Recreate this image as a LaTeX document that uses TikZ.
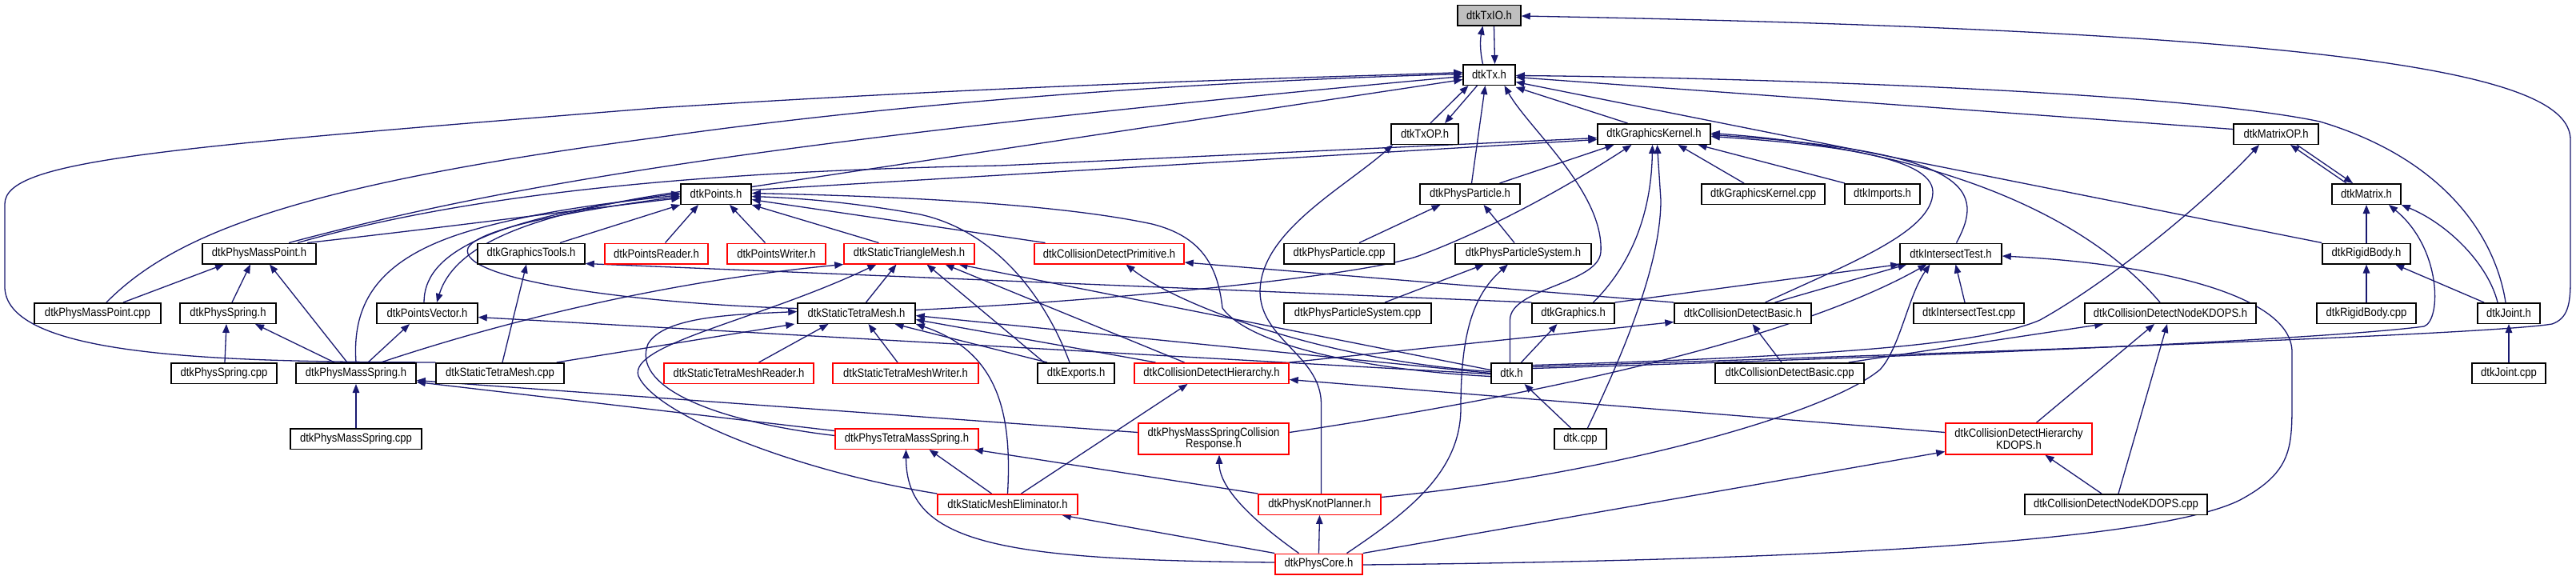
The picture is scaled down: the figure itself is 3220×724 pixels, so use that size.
\documentclass[tikz,border=0pt]{standalone}
\usepackage{fontspec}
\setmainfont{Liberation Sans}[FakeStretch=0.87]
\usetikzlibrary{arrows.meta}
\definecolor{edgec}{HTML}{191970}
\definecolor{redc}{HTML}{FF0000}
\definecolor{txgray}{HTML}{BFBFBF}
\pgfdeclarelayer{back}
\pgfdeclarelayer{bg}
\pgfsetlayers{back,bg,main}
\tikzset{
 box/.style={draw=black, line width=1.5pt, fill=white, inner sep=0pt, minimum height=25.5pt, align=center, font=\fontsize{15pt}{14.5pt}\selectfont, text=black},
 redbox/.style={box, draw=redc},
 e/.style={draw=edgec, line width=1.3pt, -{Triangle[length=11pt,width=8.5pt]}}
}
\begin{document}
\begin{tikzpicture}[x=1pt,y=-1pt]
\begin{pgfonlayer}{back}
\fill[white] (0,0) rectangle (3220,724);
\end{pgfonlayer}
\useasboundingbox (0,0) rectangle (3220,724);
% nodes
\node[box,minimum width=79pt,fill=txgray] (txio) at (1861.5,19) {dtkTxIO.h};
\node[box,minimum width=65pt] (tx) at (1861.5,93.5) {dtkTx.h};
\node[box,minimum width=84pt] (txop) at (1781,167.5) {dtkTxOP.h};
\node[box,minimum width=141pt] (gk) at (2067.5,167.5) {dtkGraphicsKernel.h};
\node[box,minimum width=106pt] (matop) at (2845,167.5) {dtkMatrixOP.h};
\node[box,minimum width=88pt] (points) at (895,242.5) {dtkPoints.h};
\node[box,minimum width=125pt] (pparticle) at (1837.5,242.5) {dtkPhysParticle.h};
\node[box,minimum width=154pt] (gkcpp) at (2204,242.5) {dtkGraphicsKernel.cpp};
\node[box,minimum width=94pt] (imports) at (2353,242.5) {dtkImports.h};
\node[box,minimum width=86pt] (matrix) at (2958,242.5) {dtkMatrix.h};
\node[box,minimum width=142pt] (pmp) at (324,317) {dtkPhysMassPoint.h};
\node[box,minimum width=134pt] (gtools) at (664,317) {dtkGraphicsTools.h};
\node[redbox,minimum width=129pt] (preader) at (820.5,317) {dtkPointsReader.h};
\node[redbox,minimum width=123pt] (pwriter) at (970.5,317) {dtkPointsWriter.h};
\node[redbox,minimum width=163pt] (stmesh) at (1136.5,317) {dtkStaticTriangleMesh.h};
\node[redbox,minimum width=187pt] (cdprim) at (1386.5,317) {dtkCollisionDetectPrimitive.h};
\node[box,minimum width=138pt] (ppcpp) at (1674,317) {dtkPhysParticle.cpp};
\node[box,minimum width=170pt] (ppsys) at (1904,317) {dtkPhysParticleSystem.h};
\node[box,minimum width=127pt] (itest) at (2438.5,317) {dtkIntersectTest.h};
\node[box,minimum width=110pt] (rigid) at (2958,317) {dtkRigidBody.h};
\node[box,minimum width=158pt] (pmpcpp) at (122,391.5) {dtkPhysMassPoint.cpp};
\node[box,minimum width=120pt] (pspring) at (285,391.5) {dtkPhysSpring.h};
\node[box,minimum width=126pt] (pvec) at (534,391.5) {dtkPointsVector.h};
\node[box,minimum width=147pt] (stetra) at (1070.5,391.5) {dtkStaticTetraMesh.h};
\node[box,minimum width=184pt] (ppsyscpp) at (1697,391.5) {dtkPhysParticleSystem.cpp};
\node[box,minimum width=103pt] (graphics) at (1966.5,391.5) {dtkGraphics.h};
\node[box,minimum width=171pt] (cdbasic) at (2178.5,391.5) {dtkCollisionDetectBasic.h};
\node[box,minimum width=138pt] (itestcpp) at (2461,391.5) {dtkIntersectTest.cpp};
\node[box,minimum width=214pt] (cdnode) at (2713,391.5) {dtkCollisionDetectNodeKDOPS.h};
\node[box,minimum width=124pt] (rigidcpp) at (2958,391.5) {dtkRigidBody.cpp};
\node[box,minimum width=78pt] (joint) at (3136,391.5) {dtkJoint.h};
\node[box,minimum width=132pt] (pspringcpp) at (280,466.5) {dtkPhysSpring.cpp};
\node[box,minimum width=150pt] (pms) at (445,466.5) {dtkPhysMassSpring.h};
\node[box,minimum width=160pt] (stetracpp) at (625,466.5) {dtkStaticTetraMesh.cpp};
\node[redbox,minimum width=187pt] (stetrareader) at (923.5,466.5) {dtkStaticTetraMeshReader.h};
\node[redbox,minimum width=182pt] (stetrawriter) at (1132,466.5) {dtkStaticTetraMeshWriter.h};
\node[box,minimum width=96pt] (exports) at (1345,466.5) {dtkExports.h};
\node[redbox,minimum width=193pt] (cdhier) at (1514.5,466.5) {dtkCollisionDetectHierarchy.h};
\node[box,minimum width=51pt] (dtkh) at (1889.5,466.5) {dtk.h};
\node[box,minimum width=186pt] (cdbasiccpp) at (2237,466.5) {dtkCollisionDetectBasic.cpp};
\node[box,minimum width=92pt] (jointcpp) at (3136,466.5) {dtkJoint.cpp};
\node[box,minimum width=164pt] (pmscpp) at (445,548.5) {dtkPhysMassSpring.cpp};
\node[redbox,minimum width=179pt] (ptms) at (1133.5,548.5) {dtkPhysTetraMassSpring.h};
\node[redbox,minimum width=188pt,minimum height=39pt] (pmscr) at (1517,548.5) {dtkPhysMassSpringCollision\\Response.h};
\node[box,minimum width=65pt] (dtkcpp) at (1975.5,548.5) {dtk.cpp};
\node[redbox,minimum width=183pt,minimum height=39pt] (cdhk) at (2523.5,548.5) {dtkCollisionDetectHierarchy\\KDOPS.h};
\node[redbox,minimum width=175pt] (sme) at (1259.5,630.5) {dtkStaticMeshEliminator.h};
\node[redbox,minimum width=153pt] (pknot) at (1649.5,630.5) {dtkPhysKnotPlanner.h};
\node[box,minimum width=228pt] (cdnodecpp) at (2645,630.5) {dtkCollisionDetectNodeKDOPS.cpp};
\node[redbox,minimum width=109pt] (pcore) at (1648.5,705) {dtkPhysCore.h};
% edges
\begin{pgfonlayer}{bg}
% into dtkTxIO.h
\draw[e] ([xshift=-8pt]tx.north) .. controls (1850,65) and (1850,50) .. ([xshift=-8pt]txio.south);
\draw[e] ([xshift=6pt]txio.south) -- ([xshift=7pt]tx.north);
\draw[e] ([yshift=8pt]dtkh.east) .. controls (2300,446) and (3100,420) .. (3190,405) .. controls (3210,398) and (3213,380) .. (3213,350) -- (3213,175) .. controls (3213,100) and (3000,40) .. ([yshift=-1pt]txio.east);
% into dtkTx.h
\draw[e] ([xshift=7pt]txop.north) -- ([xshift=-26pt]tx.south);
\draw[e] ([xshift=-15pt]tx.south) -- ([xshift=25pt]txop.north);
\draw[e] ([xshift=2pt]pparticle.north) -- ([xshift=-5pt]tx.south);
\draw[e] ([xshift=-2pt]dtkh.north) -- (1887.5,400) .. controls (1887.5,360) and (1998,355) .. (2001,315) .. controls (2005,240) and (1910,160) .. ([xshift=19pt]tx.south);
\draw[e] ([xshift=-33pt]gk.north) -- ([yshift=-2pt]tx.south east);
\draw[e] ([yshift=6pt]matop.west) -- ([yshift=-3pt]tx.east);
\draw[e] ([xshift=-4pt]joint.north) .. controls (3120,300) and (3060,200) .. (2900,152) .. controls (2700,110) and (2100,96) .. ([yshift=-1pt]tx.east);
\draw[e] (rigid.north west) -- ([yshift=-9pt]tx.east);
\draw[e] ([yshift=9pt]points.east) -- ([yshift=-6pt]tx.west);
\draw[e] ([xshift=37pt]pmp.north) .. controls (600,240) and (900,180) .. ([yshift=-2pt]tx.west);
\draw[e] ([xshift=11pt]pmpcpp.north) .. controls (220,290) and (380,230) .. (820,172) .. controls (1200,118) and (1600,99) .. ([yshift=1pt]tx.west);
\draw[e] (stetracpp.north west) .. controls (300,452) and (10,450) .. (6,360) -- (6,255) .. controls (6,200) and (200,185) .. (820,135) .. controls (1300,104) and (1650,97) .. ([yshift=3pt]tx.west);
% into dtkTxOP.h
\draw[e] ([xshift=2pt]pknot.north) -- (1651.5,505) .. controls (1651.5,445) and (1576,425) .. (1575,365) .. controls (1575,290) and (1680,235) .. ([xshift=-40pt]txop.south);
% into dtkGraphicsKernel.h
\draw[e] ([xshift=48pt]pmp.north) .. controls (560,250) and (820,215) .. (1250,207) -- ([yshift=-5pt]gk.west);
\draw[e] ([yshift=5pt]points.east) -- ([yshift=-7pt]gk.west);
\draw[e] ([xshift=37pt]pparticle.north) -- ([xshift=-50pt]gk.south);
\draw[e] ([yshift=4pt]stetra.east) .. controls (1400,375) and (1700,345) .. (1773,320) .. controls (1880,280) and (1980,220) .. ([xshift=-28pt]gk.south);
\draw[e] ([xshift=9pt]dtkcpp.north) .. controls (2030,440) and (2076,330) .. (2076,250) -- ([xshift=4pt]gk.south);
\draw[e] ([xshift=25pt]graphics.north) .. controls (2030,340) and (2064,280) .. ([xshift=-2pt]gk.south);
\draw[e] ([xshift=-24pt]gkcpp.north) -- ([xshift=30pt]gk.south);
\draw[e] ([xshift=-47pt]imports.north) -- ([xshift=55pt]gk.south);
\draw[e] ([xshift=28pt]cdbasic.north) .. controls (2310,330) and (2416,290) .. (2416,240) .. controls (2416,195) and (2280,180) .. ([yshift=-3pt]gk.east);
\draw[e] ([xshift=7pt]itest.north) .. controls (2480,240) and (2470,190) .. ([yshift=-1pt]gk.east);
\draw[e] ([xshift=-13pt]cdnode.north) .. controls (2600,260) and (2400,185) .. ([yshift=1pt]gk.east);
% into dtkMatrixOP.h
\draw[e] ([xshift=-25pt]matrix.north) -- ([xshift=18pt]matop.south);
\draw[e] ([yshift=10pt]dtkh.east) .. controls (2300,445) and (2480,430) .. (2550,400) .. controls (2640,350) and (2760,250) .. ([xshift=-21pt]matop.south);
% into dtkMatrix.h
\draw[e] ([xshift=26pt]matop.south) -- ([xshift=-17pt]matrix.north);
\draw[e] (rigid.north) -- (matrix.south);
\draw[e] ([yshift=6pt]dtkh.east) .. controls (2400,446) and (2900,425) .. (3030,408) .. controls (3052,400) and (3052,310) .. ([xshift=28pt]matrix.south);
\draw[e] ([xshift=-14pt]joint.north) .. controls (3110,330) and (3060,280) .. (matrix.south east);
% into dtkRigidBody.h, dtkJoint.h
\draw[e] (rigidcpp.north) -- (rigid.south);
\draw[e] ([xshift=-31pt]joint.north) -- ([xshift=36pt]rigid.south);
\draw[e] (jointcpp.north) -- (joint.south);
% into dtkPoints.h
\draw[e] ([xshift=60pt]pmp.north) .. controls (550,285) and (700,265) .. ([yshift=-5pt]points.west);
\draw[e] (pms.north) .. controls (440,380) and (470,320) .. (600,285) .. controls (700,258) and (800,250) .. ([yshift=-1pt]points.west);
\draw[e] ([xshift=-4pt]pvec.north) .. controls (530,320) and (600,275) .. ([yshift=1pt]points.west);
\draw[e] ([yshift=6pt]stetra.west) .. controls (800,380) and (570,350) .. (585,310) .. controls (600,280) and (780,255) .. ([yshift=-3pt]points.west);
\draw[e] ([xshift=36pt]gtools.north) -- (points.south west);
\draw[e] ([xshift=11pt]preader.north) -- ([xshift=-22pt]points.south);
\draw[e] ([xshift=-14pt]pwriter.north) -- ([xshift=17pt]points.south);
\draw[e] ([xshift=-38pt]stmesh.north) -- (points.south east);
\draw[e] ([xshift=-80pt]cdprim.north) -- ([yshift=-7pt]points.east);
\draw[e] ([xshift=-8pt]exports.north) .. controls (1310,380) and (1250,290) .. (1150,268) .. controls (1050,250) and (980,247) .. ([yshift=-3pt]points.east);
\draw[e] ([yshift=-4pt]dtkh.west) .. controls (1700,462) and (1560,430) .. (1528,385) .. controls (1522,330) and (1500,295) .. (1440,280) .. controls (1300,250) and (1050,244) .. ([yshift=1pt]points.east);
% into dtkPointsVector.h
\draw[e] ([yshift=3pt]points.west) .. controls (680,265) and (570,300) .. ([xshift=12pt]pvec.north);
\draw[e] ([xshift=15pt]pms.north) -- ([xshift=-22pt]pvec.south);
\draw[e] ([yshift=-1pt]dtkh.west) -- ([yshift=-5pt]pvec.east);
% into dtkPhysParticle.h
\draw[e] ([xshift=25pt]ppcpp.north) -- ([xshift=-37pt]pparticle.south);
\draw[e] ([xshift=-11pt]ppsys.north) -- ([xshift=17pt]pparticle.south);
% into dtkPhysMassPoint.h
\draw[e] ([xshift=32pt]pmpcpp.north) -- ([xshift=-44pt]pmp.south);
\draw[e] ([xshift=5pt]pspring.north) -- ([xshift=-11pt]pmp.south);
\draw[e] ([xshift=-11pt]pms.north) -- ([xshift=13pt]pmp.south);
% into dtkGraphicsTools.h
\draw[e] ([xshift=3pt]stetracpp.north) -- ([xshift=-6pt]gtools.south);
\draw[e] (graphics.north west) -- ([yshift=1pt]gtools.south east);
% into dtkStaticTriangleMesh.h
\draw[e] ([xshift=12pt]stetra.north) -- ([xshift=-16pt]stmesh.south);
\draw[e] ([xshift=31pt]pms.north) .. controls (650,395) and (850,350) .. (stmesh.south west);
\draw[e] (sme.north west) .. controls (1000,590) and (820,520) .. (798,470) .. controls (785,430) and (950,400) .. ([xshift=-41pt]stmesh.south);
\draw[e] ([xshift=-40pt]exports.north) -- ([xshift=22pt]stmesh.south);
\draw[e] ([xshift=-34pt]cdhier.north) -- ([xshift=45pt]stmesh.south);
\draw[e] ([yshift=4pt]dtkh.west) -- ([xshift=62pt]stmesh.south);
% into dtkCollisionDetectPrimitive.h
\draw[e] (cdbasic.north west) -- ([yshift=-11pt]cdprim.east);
\draw[e] ([yshift=2pt]dtkh.west) .. controls (1650,450) and (1470,380) .. ([xshift=21pt]cdprim.south);
% into dtkPhysParticleSystem.h
\draw[e] ([xshift=34pt]ppsyscpp.north) -- ([xshift=-49pt]ppsys.south);
\draw[e] ([xshift=35pt]pcore.north) .. controls (1760,640) and (1826,590) .. (1826,510) .. controls (1826,420) and (1840,370) .. ([xshift=-19pt]ppsys.south);
% into dtkIntersectTest.h
\draw[e] (graphics.north east) -- (itest.south west);
\draw[e] ([xshift=40pt]cdbasic.north) -- ([xshift=-55pt]itest.south);
\draw[e] ([yshift=8pt]pmscr.east) .. controls (1950,490) and (2250,420) .. ([xshift=-30pt]itest.south);
\draw[e] ([yshift=9pt]pknot.east) .. controls (2000,595) and (2280,520) .. (2350,462) .. controls (2375,435) and (2385,370) .. ([xshift=-26pt]itest.south);
\draw[e] ([xshift=-5pt]itestcpp.north) -- ([xshift=6pt]itest.south);
\draw[e] ([yshift=-1pt]pcore.east) .. controls (2300,700) and (2700,675) .. (2800,625) .. controls (2865,590) and (2865,560) .. (2865,500) -- (2865,440) .. controls (2865,370) and (2700,330) .. ([yshift=-3pt]itest.east);
% into dtkCollisionDetectBasic.h, dtkGraphics.h
\draw[e] ([xshift=-10pt]cdbasiccpp.north) -- ([xshift=12pt]cdbasic.south);
\draw[e] (cdhier.north east) -- ([yshift=-11pt]cdbasic.west);
\draw[e] ([xshift=12pt]dtkh.north) -- ([xshift=-20pt]graphics.south);
% into dtkCollisionDetectNodeKDOPS.h
\draw[e] ([xshift=22pt]cdhk.north) -- ([xshift=-20pt]cdnode.south);
\draw[e] ([xshift=3pt]cdnodecpp.north) -- ([xshift=-4pt]cdnode.south);
\draw[e] ([xshift=-20pt]cdbasiccpp.north east) -- ([xshift=24pt]cdnode.south west);
% into dtkPhysSpring.h
\draw[e] ([xshift=1pt]pspringcpp.north) -- ([xshift=-2pt]pspring.south);
\draw[e] ([xshift=-27pt]pms.north) -- ([xshift=34pt]pspring.south);
% into dtkStaticTetraMesh.h
\draw[e] ([xshift=25pt]stetrareader.north) -- ([xshift=-35pt]stetra.south);
\draw[e] ([xshift=-10pt]stetrawriter.north) -- ([xshift=15pt]stetra.south);
\draw[e] ([xshift=-36pt]exports.north) -- ([xshift=48pt]stetra.south);
\draw[e] ([xshift=-70pt]cdhier.north) -- ([yshift=-8pt]stetra.east);
\draw[e] (sme.north) .. controls (1265,520) and (1250,440) .. (stetra.south east);
\draw[e] ([xshift=-10pt]stetracpp.north east) -- ([xshift=-3pt]stetra.south west);
\draw[e] ([yshift=4pt]ptms.west) .. controls (880,525) and (790,480) .. (810,430) .. controls (830,395) and (920,393) .. ([yshift=2pt]stetra.west);
\draw[e] (dtkh.west) -- ([yshift=-3pt]stetra.east);
% into dtkPhysMassSpring.h
\draw[e] (pmscpp.north) -- (pms.south);
\draw[e] ([yshift=10pt]ptms.west) -- ([yshift=-11pt]pms.east);
\draw[e] ([yshift=8pt]pmscr.west) -- ([yshift=-9pt]pms.east);
% into dtkCollisionDetectHierarchy.h
\draw[e] ([xshift=17pt]sme.north) -- ([xshift=-30pt]cdhier.south);
\draw[e] ([yshift=8pt]cdhk.west) -- ([yshift=-8pt]cdhier.east);
% into dtk.h
\draw[e] ([xshift=-12pt]dtkcpp.north) -- ([xshift=16pt]dtkh.south);
% into dtkPhysTetraMassSpring.h
\draw[e] ([xshift=-20pt]sme.north) -- ([xshift=28pt]ptms.south);
\draw[e] ([yshift=2pt]pcore.west) .. controls (1250,700) and (1133,680) .. ([xshift=-1pt]ptms.south);
\draw[e] (pknot.north west) -- ([xshift=-6pt]ptms.south east);
% into the rest
\draw[e] ([xshift=-25pt]pcore.north) .. controls (1565,650) and (1524,610) .. ([xshift=7pt]pmscr.south);
\draw[e] (pcore.north) -- (pknot.south);
\draw[e] (pcore.north east) -- ([yshift=-16pt]cdhk.west);
\draw[e] ([xshift=-18pt]cdnodecpp.north) -- ([xshift=33pt]cdhk.south);
\draw[e] (pcore.north west) -- ([xshift=-20pt]sme.south east);
\end{pgfonlayer}
\end{tikzpicture}
\end{document}
